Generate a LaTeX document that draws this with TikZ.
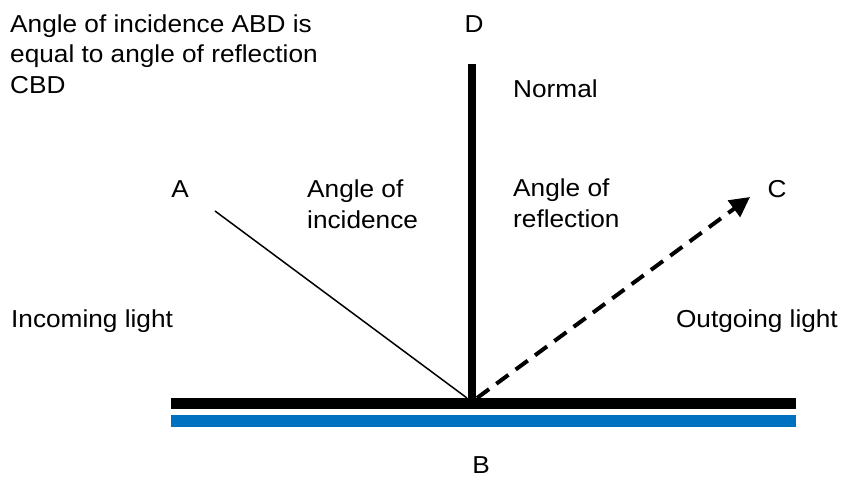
\documentclass[tikz,border=0pt]{standalone}
\usepackage{fontspec}
\setmainfont{Liberation Sans}[FakeStretch=1.07]
\usepackage{xcolor}
\usetikzlibrary{arrows.meta}
\definecolor{mirrorblue}{HTML}{0070C0}
\definecolor{ink}{HTML}{000000}
\tikzset{
  lbl/.style={font=\fontsize{24.5}{30.5}\selectfont, text=ink, inner sep=0pt, align=left},
  ray/.style={draw=ink, line width=1.5pt},
}

\begin{document}
\begin{tikzpicture}[x=1pt, y=-1pt]
  \useasboundingbox (0,0) rectangle (842,477);

  % mirror and its backing
  \draw[draw=ink, line width=11pt] (171,403) -- (796,403);
  \draw[draw=mirrorblue, line width=12pt] (171,421) -- (796,421);

  \coordinate (top) at (471.5,64);
  \coordinate (hit) at (471.5,398);
  \coordinate (inA) at (215,211);
  \coordinate (inB) at (467,398);
  \coordinate (outB) at (477,398);
  \coordinate (outC) at (750,197);

  \draw[draw=ink, line width=8pt] (top) -- (hit);
  \draw[ray] (inA) -- (inB);
  \draw[draw=ink, line width=4pt, dash pattern=on 15pt off 9pt,
        -{Triangle[length=20pt, width=20pt]}] (outB) -- (outC);

  % multi-line labels sit on the baseline of their last line
  \node[lbl, anchor=base west] (note) at (10,93)
    {Angle of incidence ABD is\\equal to angle of reflection\\CBD};
  \node[lbl, anchor=base] (labD) at (474,32) {D};
  \node[lbl, anchor=base west] (normal) at (513,97) {Normal};
  \node[lbl, anchor=base] (labA) at (180,197) {A};
  \node[lbl, anchor=base west] (incid) at (307,228) {Angle of\\incidence};
  \node[lbl, anchor=base west] (refl) at (513,227) {Angle of\\reflection};
  \node[lbl, anchor=base] (labC) at (777,197) {C};
  \node[lbl, anchor=base west] (incoming) at (11,327) {Incoming light};
  \node[lbl, anchor=base east] (outgoing) at (838,327) {Outgoing light};
  \node[lbl, anchor=base] (labB) at (481,473) {B};
\end{tikzpicture}
\end{document}
